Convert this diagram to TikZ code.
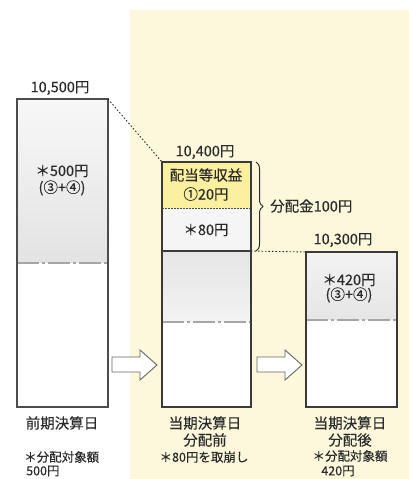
\documentclass[tikz,border=0pt]{standalone}
\usepackage{fontspec}
\setmainfont{Noto Sans CJK JP}[FakeBold=0.25]
\usetikzlibrary{decorations.pathreplacing}
\definecolor{bgyellow}{HTML}{FDF8DC}
\definecolor{boxyellow}{HTML}{FBF0A0}
\definecolor{txt}{HTML}{2A2A2A}
\definecolor{frame}{HTML}{3A3A3A}
\tikzset{
  lbl/.style={text=txt, font=\fontsize{14.5}{16}\selectfont, inner sep=0pt},
  small/.style={text=txt, font=\fontsize{12.5}{14}\selectfont, inner sep=0pt},
  barframe/.style={draw=frame, line width=1.6pt},
  sep/.style={draw=gray!70, line width=1.4pt, dash pattern=on 22pt off 3pt on 3pt off 3pt},
  guide/.style={draw=txt, line width=0.9pt, dash pattern=on 1.5pt off 2pt},
  blockarrow/.style={draw=gray!80!black, line width=0.9pt, fill=white},
}
\begin{document}
\begin{tikzpicture}[x=1pt,y=-1pt]
\useasboundingbox (0,0) rectangle (409,479);
\fill[white] (0,0) rectangle (409,479);
\fill[bgyellow] (130,10) rectangle (409,479);

% left bar
\coordinate (LTL) at (17,99); \coordinate (LTR) at (108,99);
\coordinate (LBR) at (108,407);
\shade[top color=gray!6, bottom color=gray!22] (17,99) rectangle (108,263);
\fill[white] (17,263) rectangle (108,407);
\draw[sep] (17,263) -- (108,263);
\draw[barframe, draw=gray!60!black] (LTL) rectangle (LBR);

% middle bar
\coordinate (MTL) at (162,162); \coordinate (MBR) at (251,407);
\fill[boxyellow] (162,162) rectangle (251,208);
\fill[gray!8] (162,208) rectangle (251,251);
\shade[top color=gray!20, bottom color=gray!10] (162,251) rectangle (251,322);
\fill[white] (162,322) rectangle (251,407);
\draw[draw=black!60!yellow!50!black, line width=1pt, dash pattern=on 1.5pt off 1.5pt] (162,208) -- (251,208);
\draw[sep] (162,322) -- (251,322);
\coordinate (MMR) at (251,251);
\draw[barframe] (162,251) -- (MMR);
\draw[barframe] (MTL) rectangle (MBR);

% right bar
\coordinate (RTL) at (306,252); \coordinate (RBR) at (397,407);
\shade[top color=gray!10, bottom color=gray!20] (306,252) rectangle (397,320);
\fill[white] (306,320) rectangle (397,407);
\draw[sep] (306,320) -- (397,320);
\draw[barframe] (RTL) rectangle (RBR);

% guide lines
\draw[guide] (LTR) -- (MTL);
\draw[guide] (MMR) -- (RTL);

% brace
\coordinate (BT) at (256,162); \coordinate (BB) at (256,251);
\draw[draw=txt, line width=1pt, decorate, decoration={brace, amplitude=7pt}] (BT) -- (BB);

% block arrows
\draw[blockarrow] (112,357) -- (140,357) -- (140,350) -- (157,365) -- (140,380) -- (140,372) -- (112,372) -- cycle;
\draw[blockarrow] (257,357) -- (285,357) -- (285,350) -- (302,365) -- (285,380) -- (285,372) -- (257,372) -- cycle;

% texts
\node[lbl] (t1) at (60,88) {10,500円};
\node[lbl] (t2) at (62,171) {＊500円};
\node[lbl] (t3) at (62,188) {(③+④)};
\node[lbl] (t4) at (205,152) {10,400円};
\node[lbl] (t5) at (206,175) {配当等収益};
\node[lbl] (t6) at (206,194) {①20円};
\node[lbl] (t7) at (206,230) {＊80円};
\node[lbl, anchor=west] (t8) at (270,206) {分配金100円};
\node[lbl] (t9) at (343,240) {10,300円};
\node[lbl] (t10) at (349,280) {＊420円};
\node[lbl] (t11) at (349,295) {(③+④)};

\node[lbl] (b1) at (62,423) {前期決算日};
\node[small, anchor=west] (b2) at (24,457) {＊分配対象額};
\node[small, anchor=west] (b3) at (26,471) {500円};
\node[lbl] (b4) at (205,423) {当期決算日};
\node[lbl] (b5) at (205,440) {分配前};
\node[small] (b6) at (204,457) {＊80円を取崩し};
\node[lbl] (b7) at (350,423) {当期決算日};
\node[lbl] (b8) at (350,440) {分配後};
\node[small] (b9) at (350,456) {＊分配対象額};
\node[small] (b10) at (338,471) {420円};
\end{tikzpicture}
\end{document}
